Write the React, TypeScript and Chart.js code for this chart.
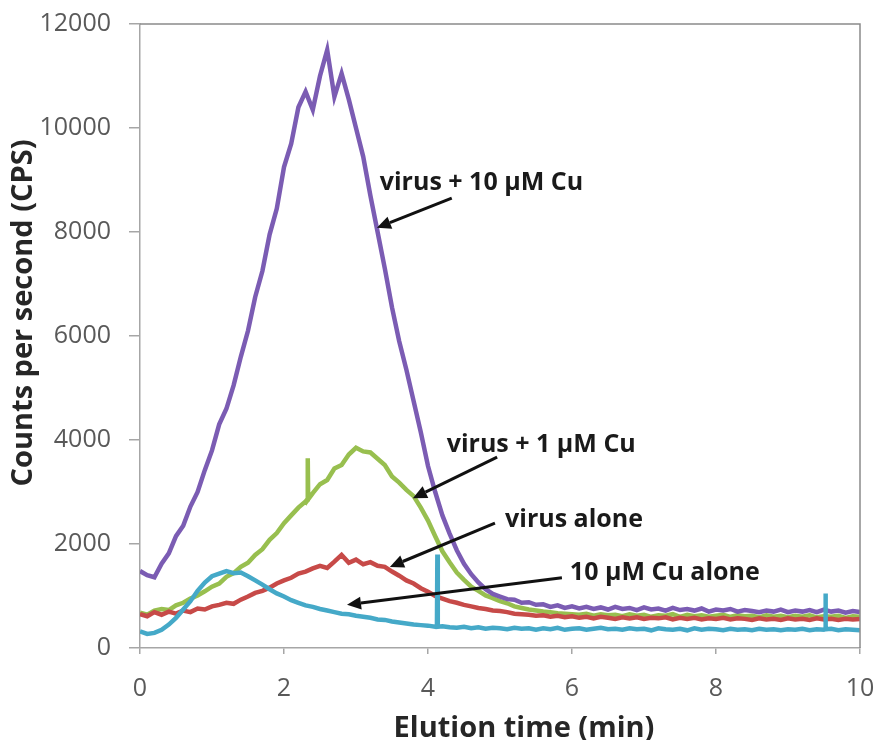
import React, { useEffect, useRef } from "react";
import { Chart, registerables } from "chart.js";

Chart.register(...registerables);

// Elution time (min)
const time = [
  0, 0.1, 0.2, 0.3, 0.4, 0.5, 0.6, 0.7, 0.8, 0.9,
  1, 1.1, 1.2, 1.3, 1.4, 1.5, 1.6, 1.7, 1.8, 1.9,
  2, 2.1, 2.2, 2.3, 2.4, 2.5, 2.6, 2.7, 2.8, 2.9,
  3, 3.1, 3.2, 3.3, 3.4, 3.5, 3.6, 3.7, 3.8, 3.9,
  4, 4.1, 4.2, 4.3, 4.4, 4.5, 4.6, 4.7, 4.8, 4.9,
  5, 5.1, 5.2, 5.3, 5.4, 5.5, 5.6, 5.7, 5.8, 5.9,
  6, 6.1, 6.2, 6.3, 6.4, 6.5, 6.6, 6.7, 6.8, 6.9,
  7, 7.1, 7.2, 7.3, 7.4, 7.5, 7.6, 7.7, 7.8, 7.9,
  8, 8.1, 8.2, 8.3, 8.4, 8.5, 8.6, 8.7, 8.8, 8.9,
  9, 9.1, 9.2, 9.3, 9.4, 9.5, 9.6, 9.7, 9.8, 9.9,
  10,
];

// virus + 10 µM Cu
const virus10Cu = [
  1480, 1400, 1360, 1620, 1820, 2150, 2350, 2720, 3000, 3420,
  3800, 4300, 4600, 5050, 5600, 6100, 6750, 7250, 7950, 8450,
  9250, 9700, 10400, 10700, 10350, 11000, 11500, 10600, 11050, 10550,
  10000, 9450, 8700, 8000, 7300, 6550, 5900, 5350, 4750, 4150,
  3500, 3000, 2550, 2200, 1880, 1620, 1420, 1260, 1130, 1040,
  990, 940, 930, 870, 880, 830, 840, 790, 820, 770,
  800, 760, 790, 750, 780, 740, 790, 750, 770, 730,
  780, 740, 760, 720, 770, 730, 750, 720, 760, 700,
  740, 720, 750, 700, 730, 710, 690, 720, 700, 740,
  690, 720, 700, 730, 690, 740, 700, 720, 680, 710,
  690,
];

// virus + 1 µM Cu
const virus1Cu = [
  680, 640, 720, 750, 730, 820, 870, 950, 1010, 1090,
  1180, 1240, 1370, 1440, 1560, 1640, 1790, 1900, 2080, 2210,
  2400, 2550, 2700, 2820, 2980, 3150, 3230, 3450, 3520, 3720,
  3850, 3780, 3760, 3640, 3520, 3300, 3180, 3040, 2920, 2700,
  2450, 2150, 1860, 1650, 1450, 1310, 1180, 1100, 1010, 960,
  900, 860, 800, 770, 740, 720, 700, 690, 670, 660,
  650, 640, 660, 620, 650, 630, 640, 610, 650, 620,
  640, 600, 630, 620, 650, 600, 640, 610, 630, 600,
  620, 640, 600, 630, 610, 620, 590, 630, 600, 620,
  590, 620, 600, 630, 590, 610, 600, 620, 580, 610,
  600,
];
const virus1CuSpikeTime = [2.33];
const virus1CuSpikeBase = [2860];
const virus1CuSpikePeak = [3650];

// virus alone
const virusAlone = [
  650, 610, 690, 640, 700, 660, 720, 690, 760, 740,
  800, 830, 870, 850, 930, 990, 1060, 1100, 1160, 1240,
  1300, 1350, 1430, 1470, 1530, 1580, 1540, 1660, 1790, 1640,
  1700, 1610, 1650, 1580, 1560, 1470, 1390, 1300, 1240, 1150,
  1080, 1000, 950, 900, 870, 830, 800, 770, 750, 720,
  710, 690, 660, 650, 640, 620, 630, 600, 620, 590,
  610, 580, 600, 570, 600, 580, 560, 590, 570, 590,
  560, 580, 570, 590, 550, 580, 560, 580, 550, 570,
  560, 580, 550, 570, 560, 540, 570, 550, 560, 540,
  570, 550, 560, 540, 570, 550, 560, 540, 560, 550,
  560,
];

// 10 µM Cu alone
const cuAlone = [
  320, 270, 290, 350, 450, 580, 740, 900, 1100, 1260,
  1380, 1430, 1480, 1440, 1450, 1380, 1300, 1220, 1130, 1050,
  990, 920, 870, 820, 790, 750, 720, 690, 660, 650,
  620, 600, 580, 550, 540, 510, 490, 470, 450, 440,
  430, 410, 420, 400, 390, 410, 380, 400, 370, 390,
  380, 360, 390, 370, 380, 350, 380, 360, 390, 350,
  370, 380, 350, 370, 390, 360, 370, 350, 380, 360,
  370, 340, 380, 360, 350, 370, 340, 380, 350, 370,
  360, 340, 370, 350, 360, 340, 370, 350, 360, 340,
  360, 350, 370, 340, 360, 350, 370, 340, 360, 350,
  340,
];
const cuAloneSpikeTime = [4.13, 9.52];
const cuAloneSpikeBase = [410, 360];
const cuAloneSpikePeak = [1800, 1050];

const xTicks = [0, 2, 4, 6, 8, 10];
const yTicks = [0, 2000, 4000, 6000, 8000, 10000, 12000];

const xTitle = "Elution time (min)";
const yTitle = "Counts per second (CPS)";

type Pt = { x: number; y: number };

function buildPoints(values: number[], spikeT: number[] = [], spikeBase: number[] = [], spikePeak: number[] = []): Pt[] {
  const pts: Pt[] = time.map((t, i) => ({ x: t, y: values[i] }));
  spikeT.forEach((t, i) => {
    pts.push({ x: t - 0.006, y: spikeBase[i] });
    pts.push({ x: t, y: spikePeak[i] });
    pts.push({ x: t + 0.006, y: spikeBase[i] });
  });
  pts.sort((a, b) => a.x - b.x);
  return pts;
}

// annotation layout (data coordinates)
const notes = [
  { text: "virus + 10 µM Cu", tx: 3.33, ty: 8940, fx: 4.33, fy: 8650, ax: 3.29, ay: 8080 },
  { text: "virus + 1 µM Cu", tx: 4.26, ty: 3900, fx: 4.96, fy: 3670, ax: 3.79, ay: 2880 },
  { text: "virus alone", tx: 5.07, ty: 2460, fx: 4.93, fy: 2400, ax: 3.47, ay: 1560 },
  { text: "10 µM Cu alone", tx: 5.97, ty: 1440, fx: 5.86, fy: 1350, ax: 2.875, ay: 830 },
];

const annotationPlugin = {
  id: "notes",
  afterDatasetsDraw(chart: any) {
    const { ctx, scales } = chart;
    const xs = scales.x;
    const ys = scales.y;
    ctx.save();
    notes.forEach((n) => {
      const x1 = xs.getPixelForValue(n.fx);
      const y1 = ys.getPixelForValue(n.fy);
      const x2 = xs.getPixelForValue(n.ax);
      const y2 = ys.getPixelForValue(n.ay);
      const ang = Math.atan2(y2 - y1, x2 - x1);
      const headLen = 14;
      const headW = 6.5;
      const bx = x2 - headLen * Math.cos(ang);
      const by = y2 - headLen * Math.sin(ang);
      ctx.strokeStyle = "#111";
      ctx.fillStyle = "#111";
      ctx.lineWidth = 3;
      ctx.beginPath();
      ctx.moveTo(x1, y1);
      ctx.lineTo(bx, by);
      ctx.stroke();
      ctx.beginPath();
      ctx.moveTo(x2, y2);
      ctx.lineTo(bx + headW * Math.sin(ang), by - headW * Math.cos(ang));
      ctx.lineTo(bx - headW * Math.sin(ang), by + headW * Math.cos(ang));
      ctx.closePath();
      ctx.fill();
    });
    ctx.font = "bold 25px 'Open Sans'";
    ctx.textAlign = "left";
    ctx.textBaseline = "middle";
    ctx.fillStyle = "#1a1a1a";
    notes.forEach((n) => {
      ctx.fillText(n.text, xs.getPixelForValue(n.tx), ys.getPixelForValue(n.ty));
    });
    ctx.restore();
  },
};

const framePlugin = {
  id: "frame",
  afterDraw(chart: any) {
    const { ctx, chartArea } = chart;
    ctx.save();
    ctx.strokeStyle = "#8a8a8a";
    ctx.lineWidth = 1.5;
    ctx.beginPath();
    ctx.moveTo(chartArea.left, chartArea.top);
    ctx.lineTo(chartArea.right, chartArea.top);
    ctx.lineTo(chartArea.right, chartArea.bottom);
    ctx.stroke();

    // axis titles
    ctx.fillStyle = "#262626";
    ctx.font = "bold 29px 'Open Sans'";
    ctx.textAlign = "center";
    ctx.textBaseline = "middle";
    const cx = (chartArea.left + chartArea.right) / 2 + 24;
    ctx.fillText(xTitle, cx, chart.height - 11);
    const cy = (chartArea.top + chartArea.bottom) / 2 - 23;
    ctx.translate(24, cy);
    ctx.rotate(-Math.PI / 2);
    ctx.fillText(yTitle, 0, 0);
    ctx.restore();
  },
};

export default function App() {
  const canvasRef = useRef<HTMLCanvasElement | null>(null);

  useEffect(() => {
    const canvas = canvasRef.current;
    if (!canvas) return;
    const tickFont = { family: "'Open Sans', sans-serif", size: 25 };
    const lineCommon = { borderWidth: 4.5, pointRadius: 0, tension: 0 };
    const chart = new Chart(canvas, {
      type: "line",
      data: {
        datasets: [
          {
            label: "10 µM Cu alone",
            data: buildPoints(cuAlone, cuAloneSpikeTime, cuAloneSpikeBase, cuAloneSpikePeak),
            borderColor: "#45a9c8",
            ...lineCommon,
            order: 0,
          },
          {
            label: "virus + 10 µM Cu",
            data: buildPoints(virus10Cu),
            borderColor: "#7b5cb3",
            ...lineCommon,
            order: 1,
          },
          {
            label: "virus alone",
            data: buildPoints(virusAlone),
            borderColor: "#c74a48",
            ...lineCommon,
            order: 2,
          },
          {
            label: "virus + 1 µM Cu",
            data: buildPoints(virus1Cu, virus1CuSpikeTime, virus1CuSpikeBase, virus1CuSpikePeak),
            borderColor: "#98bf4f",
            ...lineCommon,
            order: 3,
          },
        ],
      },
      options: {
        responsive: false,
        animation: false,
        devicePixelRatio: 1,
        layout: { padding: { left: 0, top: 24, right: 14, bottom: 0 } },
        plugins: {
          legend: { display: false },
          tooltip: { enabled: false },
        },
        scales: {
          x: {
            type: "linear",
            min: 0,
            max: 10,
            afterBuildTicks: (s: any) => {
              s.ticks = xTicks.map((v) => ({ value: v }));
            },
            afterFit: (s: any) => {
              s.height = 92;
              s.paddingLeft = 0;
              s.paddingRight = 0;
            },
            ticks: {
              font: tickFont,
              color: "#595959",
              padding: 20,
              maxRotation: 0,
              callback: (v: any) => String(v),
            },
            grid: { drawOnChartArea: false, drawTicks: true, tickLength: 6, color: "#a6a6a6", lineWidth: 1.5 },
            border: { color: "#a6a6a6", width: 1.5 },
            title: { display: false },
          },
          y: {
            type: "linear",
            min: 0,
            max: 12000,
            afterBuildTicks: (s: any) => {
              s.ticks = yTicks.map((v) => ({ value: v }));
            },
            afterFit: (s: any) => {
              s.width = 140;
              s.paddingTop = 0;
              s.paddingBottom = 0;
            },
            ticks: {
              font: tickFont,
              color: "#595959",
              padding: 18,
              callback: (v: any) => String(v),
            },
            grid: { drawOnChartArea: false, drawTicks: true, tickLength: 11, color: "#a6a6a6", lineWidth: 1.5 },
            border: { color: "#a6a6a6", width: 1.5 },
            title: { display: false },
          },
        },
      },
      plugins: [annotationPlugin, framePlugin],
    });
    return () => chart.destroy();
  }, []);

  return (
    <div style={{ position: "absolute", left: 0, top: 0, width: 874, height: 740, background: "#ffffff" }}>
      <canvas ref={canvasRef} width={874} height={740} style={{ width: 874, height: 740, display: "block" }} />
    </div>
  );
}
